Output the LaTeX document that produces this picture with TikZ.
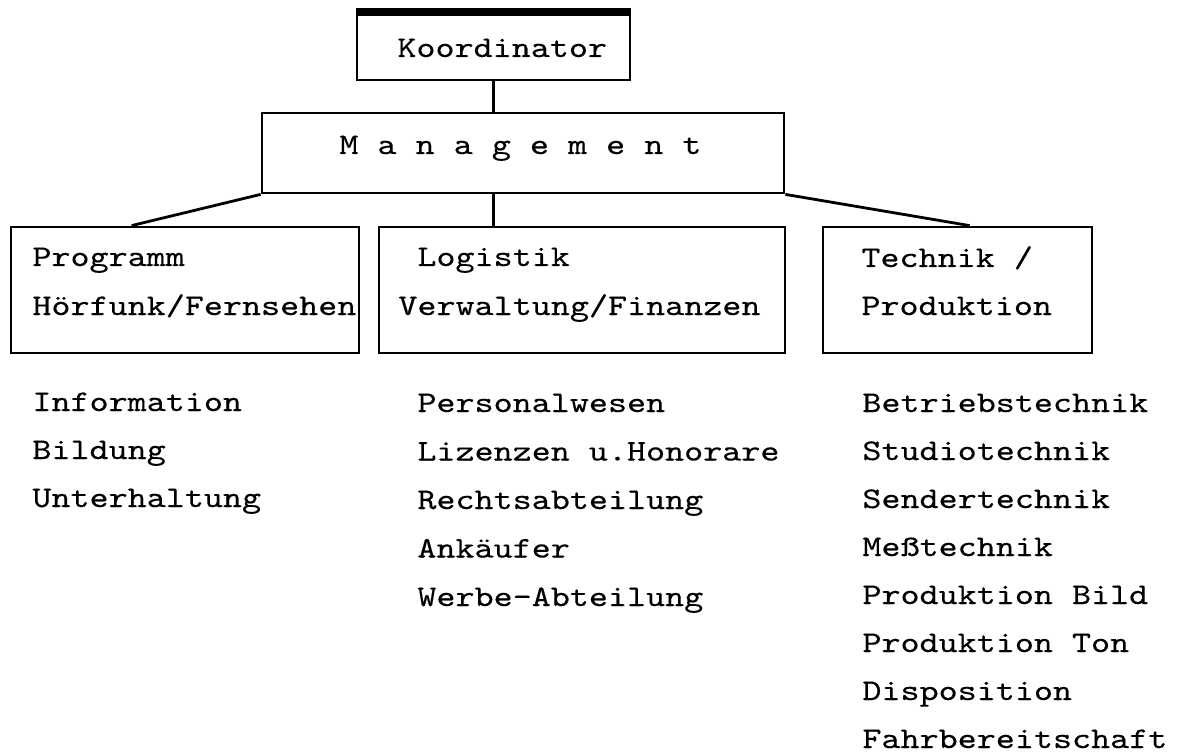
\documentclass[tikz,border=0pt]{standalone}
\usepackage{fontspec}
\newfontfamily\typewriter[FakeStretch=1.21,FakeBold=0.3]{lmmono10-regular.otf}

\begin{document}
\begin{tikzpicture}[x=0.5pt,y=-0.5pt,
        box/.style={draw,line width=1.4pt,inner sep=0pt},
        entry/.style={font=\typewriter\fontsize{15}{24}\selectfont,anchor=base west,inner sep=0pt},
        conn/.style={line width=1.4pt}]
  \useasboundingbox (0,0) rectangle (1186,753);
  \node[box,minimum width=136.5pt,minimum height=33.5pt] (koordinator) at (493.5,46.5) {};
  \node[box,minimum width=261pt,minimum height=40pt] (management) at (523,153) {};
  \node[box,minimum width=174pt,minimum height=63pt] (programm) at (185,290) {};
  \node[box,minimum width=203pt,minimum height=63pt] (logistik) at (582,290) {};
  \node[box,minimum width=134.5pt,minimum height=63pt] (technik) at (957.5,290) {};
  \draw[line width=4pt] (koordinator.north west) -- (koordinator.north east);
  \node[entry] (koordinatorText) at (397,57) {Koordinator};
  \node[entry] (managementText) at (339,154) {M a n a g e m e n t};
  \node[entry] (programmText) at (32,266) {Programm};
  \node[entry] (programmSub) at (32,315) {Hörfunk/Fernsehen};
  \node[entry] (logistikText) at (417,266) {Logistik};
  \node[entry] (logistikSub) at (398,315) {Verwaltung/Finanzen};
  \node[entry] (technikText) at (861,267) {Technik /};
  \node[entry] (technikSub) at (861,315) {Produktion};
  \draw[conn] (koordinator.south) -- (koordinator.south |- management.north);
  \draw[conn] (koordinator.south |- management.south) -- (koordinator.south |- logistik.north);
  \draw[conn] (management.south west) -- ([xshift=61pt]programm.north west);
  \draw[conn] (management.south east) -- ([xshift=74pt]technik.north west);
  \foreach \t [count=\i] in {Information,Bildung,Unterhaltung}
    \node[entry] (prog\i) at (32,363+48*\i) {\t};
  \foreach \t [count=\i] in {Personalwesen,Lizenzen u.Honorare,Rechtsabteilung,Ankäufer,Werbe-Abteilung}
    \node[entry] (log\i) at (417,363.5+48.5*\i) {\t};
  \foreach \t [count=\i] in {Betriebstechnik,Studiotechnik,Sendertechnik,Meßtechnik,Produktion Bild,Produktion Ton,Disposition,Fahrbereitschaft}
    \node[entry] (tech\i) at (862,364+48*\i) {\t};
\end{tikzpicture}
\end{document}
